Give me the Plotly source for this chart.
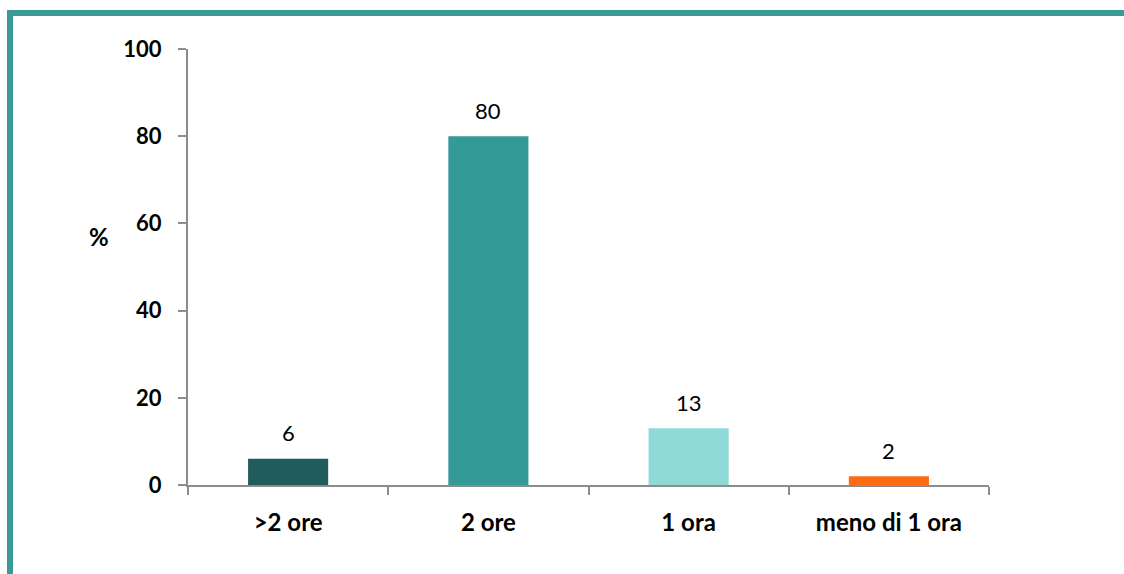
import plotly.graph_objects as go

categories = [">2 ore", "2 ore", "1 ora", "meno di 1 ora"]
values = [6, 80, 13, 2]
colors = ["#1F5C5B", "#339A98", "#8FD9D6", "#FF6A13"]
y_ticks = [0, 20, 40, 60, 80, 100]

FONT = "Lato, Open Sans, sans-serif"
OFF = 0  # body margin removed via post_script
L, T = 188 - OFF, 49 - OFF
W, H = 1124, 574
pw, ph = 801, 436
R, B = W - L - pw, H - T - ph

fig = go.Figure()
fig.add_trace(go.Bar(
    x=categories, y=values, marker=dict(color=colors, line=dict(width=0)),
    width=0.4, cliponaxis=False, hoverinfo="skip",
))
for c, v in zip(categories, values):
    fig.add_annotation(x=c, y=v, text=str(v), showarrow=False, yanchor="middle", yshift=26,
                       font=dict(family=FONT, size=22, color="#000000"))

def px_x(x):
    return (x - OFF - L) / pw

def px_y(y):
    return (T + ph - (y - OFF)) / ph

teal = "#3A9A96"
fig.add_shape(type="line", xref="paper", yref="paper", x0=px_x(7), x1=px_x(1140),
              y0=px_y(13), y1=px_y(13), line=dict(color=teal, width=6))
fig.add_shape(type="line", xref="paper", yref="paper", x0=px_x(10), x1=px_x(10),
              y0=px_y(10), y1=px_y(600), line=dict(color=teal, width=6))

fig.add_annotation(text="<b>%</b>", xref="paper", yref="paper", x=px_x(99), y=px_y(236),
                   xanchor="center", yanchor="middle",
                   showarrow=False, font=dict(family=FONT, size=24, color="#000"))

fig.update_layout(
    width=W, height=H, margin=dict(l=L, r=R, t=T, b=B, autoexpand=False),
    plot_bgcolor="white", paper_bgcolor="white", showlegend=False,
    font=dict(family=FONT, color="#000"),
    xaxis=dict(showline=True, linecolor="#8C8C8C", linewidth=2, ticks="outside",
               tickson="boundaries", ticklen=8, tickwidth=2, tickcolor="#8C8C8C",
               tickfont=dict(size=24, family=FONT, weight="bold"),
               showgrid=False, zeroline=False, ticklabelstandoff=15),
    yaxis=dict(range=[0, 100], tickvals=y_ticks, showline=True, linecolor="#8C8C8C", linewidth=2,
               ticks="outside", ticklen=8, tickwidth=2, tickcolor="#8C8C8C",
               tickfont=dict(size=22, family=FONT, weight="bold"),
               showgrid=False, zeroline=False, ticklabelstandoff=12),
    bargap=0.6,
)

fig.write_html("out.html", config={"displayModeBar": False},
               post_script="document.body.style.margin='0';document.body.style.overflow='hidden';")
